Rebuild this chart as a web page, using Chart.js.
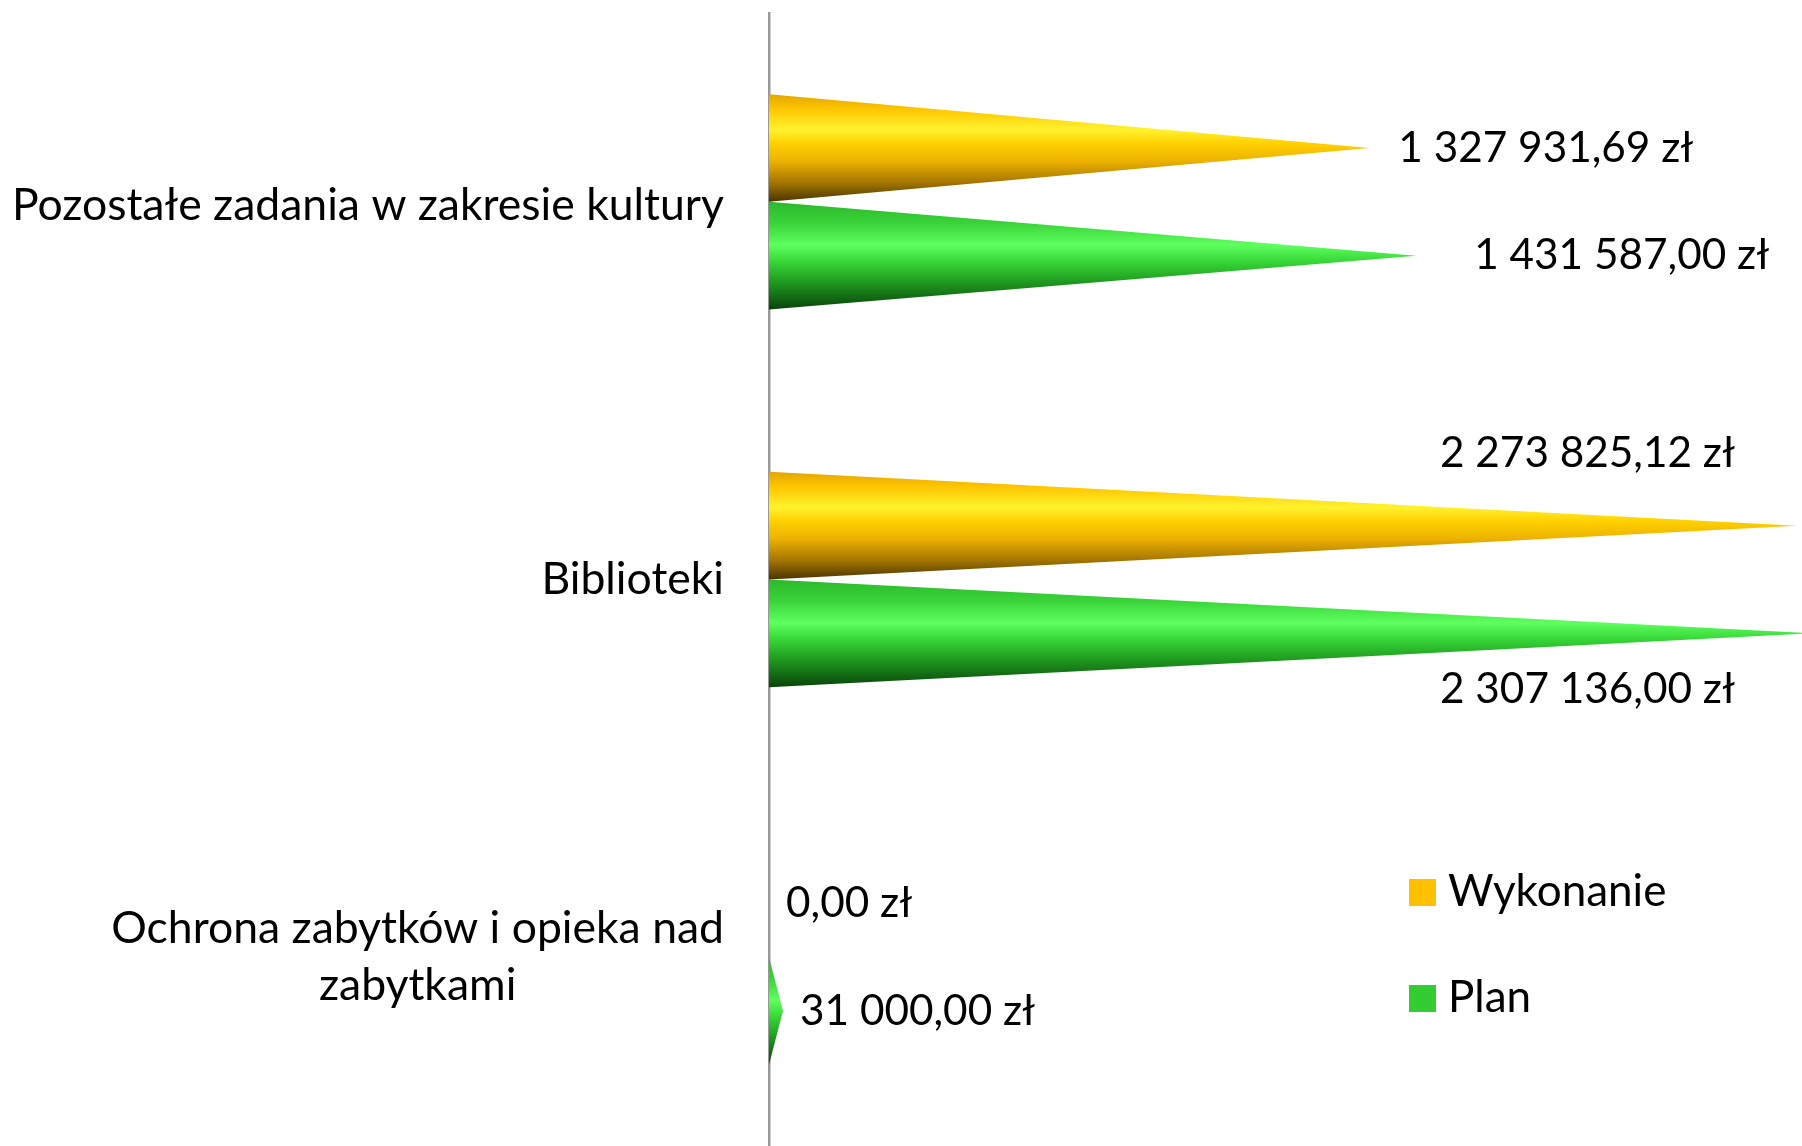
<!DOCTYPE html>
<html lang="pl">
<head>
<meta charset="utf-8">
<script src="https://cdn.jsdelivr.net/npm/chart.js@4.4.1/dist/chart.umd.min.js"></script>
<style>
  html, body { margin: 0; padding: 0; background: #fff; }
</style>
</head>
<body>
<canvas id="stozki" width="1802" height="1146"></canvas>
<script>
// Dane wykresu
const kategorie = [
  ['Pozostałe zadania w zakresie kultury'],
  ['Biblioteki'],
  ['Ochrona zabytków i opieka nad', 'zabytkami']
];
const wykonanie = [1327931.69, 2273825.12, 0];
const plan = [1431587.00, 2307136.00, 31000.00];
const serie = ['Wykonanie', 'Plan'];
const zakresX = { min: 0, max: 2285000 };

const FONT = 'Lato, "Open Sans", sans-serif';
const R_KAT = 44.5;   // nazwy kategorii
const R_KWOTA = 42.3; // kwoty przy stożkach
const R_LEG = 44;     // legenda

// Format kwoty: 1 327 931,69 zł
function zl(v) {
  const [cz, dz] = v.toFixed(2).split('.');
  return cz.replace(/\B(?=(\d{3})+(?!\d))/g, ' ') + ',' + dz + ' zł';
}

// Rysowanie stożków zamiast prostokątów
const stozki = {
  id: 'stozki',
  afterDatasetsDraw(chart) {
    const ctx = chart.ctx, a = chart.chartArea;
    ctx.save();
    ctx.beginPath();
    ctx.rect(a.left, a.top, a.right - a.left, a.bottom - a.top);
    ctx.clip();
    chart.data.datasets.forEach((ds, di) => {
      chart.getDatasetMeta(di).data.forEach(bar => {
        const { x, y, base, height } = bar.getProps(['x', 'y', 'base', 'height'], true);
        if (Math.abs(x - base) < 0.5) return;
        const top = y - height / 2, bottom = y + height / 2;
        const g = ctx.createLinearGradient(0, top, 0, bottom);
        ds.cieniowanie.forEach(([p, c]) => g.addColorStop(p, c));
        ctx.fillStyle = g;
        ctx.beginPath();
        ctx.moveTo(base, top);
        ctx.lineTo(x, y);
        ctx.lineTo(base, bottom);
        ctx.closePath();
        ctx.fill();
      });
    });
    ctx.restore();
  }
};

// Etykiety kwot przy stożkach
const etykiety = {
  id: 'etykiety',
  afterDraw(chart, args, opts) {
    const ctx = chart.ctx, a = chart.chartArea;
    ctx.save();
    ctx.font = `${R_KWOTA}px ${FONT}`;
    ctx.fillStyle = '#000';
    ctx.textBaseline = 'middle';
    chart.data.datasets.forEach((ds, di) => {
      chart.getDatasetMeta(di).data.forEach((bar, i) => {
        const { x, y, height } = bar.getProps(['x', 'y', 'height'], true);
        const txt = zl(ds.data[i]);
        const w = ctx.measureText(txt).width;
        let tx = x + (opts.odstepy[di + ':' + i] ?? opts.odstep);
        let ty = y;
        ctx.textAlign = 'left';
        if (tx + w > a.right - 20) {
          ctx.textAlign = 'right';
          tx = a.right - 67;
          ty = di === 0 ? y - height / 2 - 19 : y + height / 2 + 2;
        }
        ctx.fillText(txt, tx, ty);
      });
    });
    ctx.restore();
  }
};

// Nazwy kategorii po lewej stronie osi
const kategorieOs = {
  id: 'kategorieOs',
  afterDraw(chart) {
    const ctx = chart.ctx, sy = chart.scales.y;
    const prawa = chart.chartArea.left - 45;
    const lh = 57;
    ctx.save();
    ctx.font = `${R_KAT}px ${FONT}`;
    ctx.fillStyle = '#000';
    ctx.textAlign = 'center';
    ctx.textBaseline = 'middle';
    kategorie.forEach((linie, i) => {
      const yc = sy.getPixelForTick(i) + (i === 0 ? 4 : 0);
      const szer = Math.max(...linie.map(l => ctx.measureText(l).width));
      const xc = prawa - szer / 2;
      linie.forEach((l, k) => {
        ctx.fillText(l, xc, yc + (k - (linie.length - 1) / 2) * lh);
      });
    });
    ctx.restore();
  }
};

// Legenda w obszarze wykresu
const legenda = {
  id: 'legenda',
  afterDraw(chart) {
    const ctx = chart.ctx;
    ctx.save();
    ctx.font = `${R_LEG}px ${FONT}`;
    ctx.textAlign = 'left';
    ctx.textBaseline = 'middle';
    chart.data.datasets.forEach((ds, di) => {
      const yc = 892 + di * 106;
      ctx.fillStyle = ds.kolor;
      ctx.fillRect(1409, yc - 13, 27, 27);
      ctx.fillStyle = '#000';
      ctx.fillText(ds.label, 1448, yc);
    });
    ctx.restore();
  }
};

new Chart(document.getElementById('stozki'), {
  type: 'bar',
  data: {
    labels: kategorie,
    datasets: [
      {
        label: serie[0],
        data: wykonanie,
        kolor: '#FFC000',
        backgroundColor: 'rgba(0,0,0,0)',
        borderWidth: 0,
        cieniowanie: [[0, '#E3A600'], [0.14, '#FFC600'], [0.33, '#FFF22E'], [0.46, '#FFD000'], [0.62, '#EDB200'], [0.82, '#A57600'], [1, '#4A3500']]
      },
      {
        label: serie[1],
        data: plan,
        kolor: '#33CC33',
        backgroundColor: 'rgba(0,0,0,0)',
        borderWidth: 0,
        cieniowanie: [[0, '#2CB82C'], [0.2, '#3AD43A'], [0.4, '#5EFF5E'], [0.55, '#38D838'], [0.75, '#1F981F'], [1, '#0A430A']]
      }
    ]
  },
  options: {
    indexAxis: 'y',
    responsive: false,
    animation: false,
    devicePixelRatio: 1,
    layout: { padding: { top: 13, right: 0, bottom: -8, left: 0 } },
    datasets: { bar: { categoryPercentage: 0.57, barPercentage: 1 } },
    scales: {
      x: { display: false, min: zakresX.min, max: zakresX.max },
      y: {
        grid: { display: false },
        ticks: { display: false },
        border: { display: true, color: '#999999', width: 2.5 },
        afterFit(scale) { scale.width = 769; }
      }
    },
    plugins: {
      legend: { display: false },
      tooltip: { enabled: false },
      etykiety: { odstep: 17, odstepy: { '0:0': 29, '1:0': 58 } }
    }
  },
  plugins: [stozki, etykiety, kategorieOs, legenda]
});
</script>
</body>
</html>
